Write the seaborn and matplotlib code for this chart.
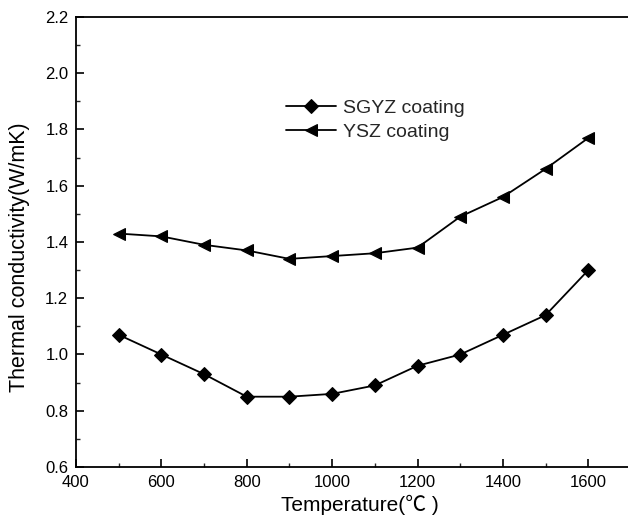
import numpy as np
import pandas as pd
import seaborn as sns
import matplotlib
matplotlib.use("Agg")
import matplotlib.pyplot as plt
from matplotlib.ticker import MultipleLocator, FormatStrFormatter

temperature = [500, 600, 700, 800, 900, 1000, 1100, 1200, 1300, 1400, 1500, 1600]
sgyz = [1.07, 1.00, 0.93, 0.85, 0.85, 0.86, 0.89, 0.96, 1.00, 1.07, 1.14, 1.30]
ysz = [1.43, 1.42, 1.39, 1.37, 1.34, 1.35, 1.36, 1.38, 1.49, 1.56, 1.66, 1.77]
series_names = ["SGYZ coating", "YSZ coating"]

sns.set_theme(style="ticks")
plt.rcParams["font.family"] = ["Liberation Sans", "Noto Sans CJK SC", "DejaVu Sans"]

df_sgyz = pd.DataFrame({"Temperature": temperature, "k": sgyz})
df_ysz = pd.DataFrame({"Temperature": temperature, "k": ysz})

fig = plt.figure(figsize=(6.28, 5.27), dpi=100)
ax = fig.add_axes([76 / 628, 60 / 527, 555 / 628, 450 / 527])

sns.lineplot(data=df_sgyz, x="Temperature", y="k", color="black", marker="D",
             markersize=7, linewidth=1.3, markeredgecolor="black",
             label=series_names[0], ax=ax)
sns.lineplot(data=df_ysz, x="Temperature", y="k", color="black", marker="<",
             markersize=9, linewidth=1.3, markeredgecolor="black",
             label=series_names[1], ax=ax)

ax.set_xlim(400, 1700)
ax.set_ylim(0.6, 2.2)
ax.set_xticks(list(range(400, 1601, 200)))
ax.xaxis.set_minor_locator(MultipleLocator(100))
ax.yaxis.set_major_locator(MultipleLocator(0.2))
ax.yaxis.set_minor_locator(MultipleLocator(0.1))
ax.yaxis.set_major_formatter(FormatStrFormatter("%.1f"))
ax.set_xlim(400, 1700)
ax.tick_params(which="major", direction="in", length=5.5, width=1.2, labelsize=12,
               colors="black", top=False, right=False, pad=5.5)
ax.tick_params(which="minor", direction="in", length=3, width=1.0, top=False, right=False)

for side in ["left", "bottom", "top"]:
    ax.spines[side].set_linewidth(1.3)
    ax.spines[side].set_color("black")
ax.spines["right"].set_visible(False)

ax.set_xlabel("Temperature(℃ )", fontsize=15, color="black", labelpad=4, x=0.512)
ax.set_ylabel("Thermal conductivity(W/mK)", fontsize=15.5, color="black")
ax.yaxis.set_label_coords(-0.083, 0.467)

handles, labels = ax.get_legend_handles_labels()
ax.legend(handles, labels, frameon=False, loc="upper left",
          bbox_to_anchor=(0.378, 0.818), fontsize=14, handlelength=2.6,
          borderaxespad=0, borderpad=0, labelspacing=0.36, handletextpad=0.36)

fig.savefig("out.png", dpi=100)
